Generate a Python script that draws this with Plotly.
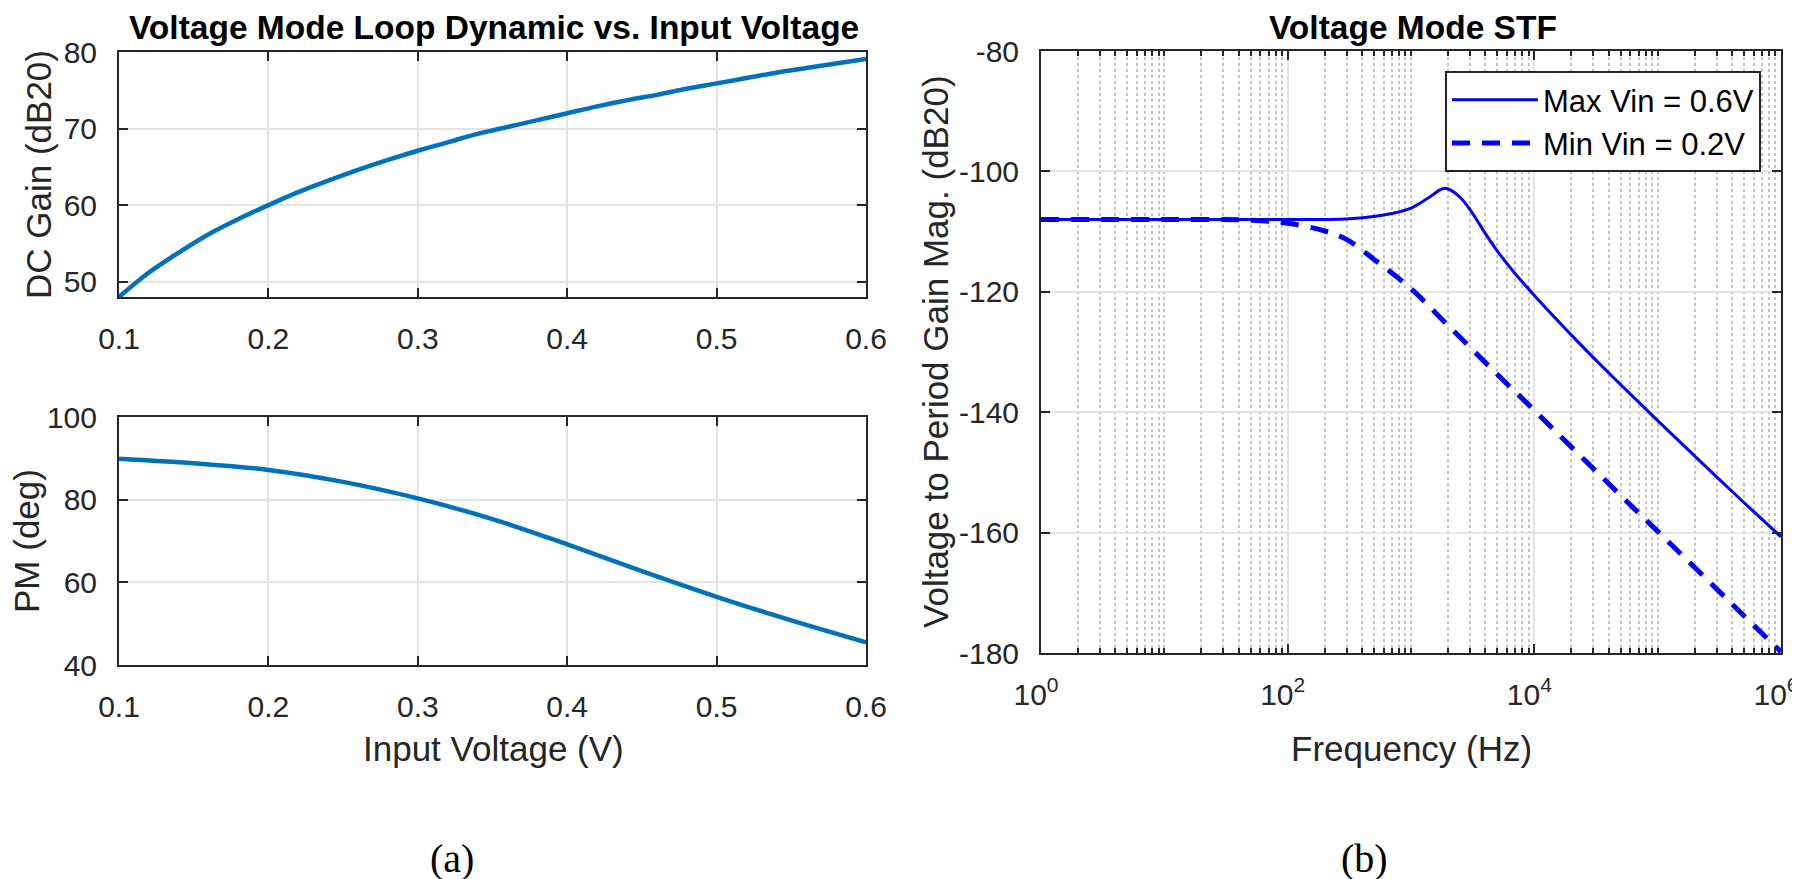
import plotly.graph_objects as go

# ---------------- data ----------------
vin = [0.10, 0.12, 0.14, 0.16, 0.18, 0.20, 0.22, 0.24, 0.26, 0.28, 0.30, 0.32, 0.34,
       0.36, 0.38, 0.40, 0.42, 0.44, 0.46, 0.48, 0.50, 0.52, 0.54, 0.56, 0.58, 0.60]
dc_gain = [48.0, 51.2, 53.8, 56.2, 58.2, 60.0, 61.7, 63.2, 64.6, 65.9, 67.1, 68.2, 69.3,
           70.2, 71.1, 72.0, 72.9, 73.7, 74.4, 75.2, 75.9, 76.6, 77.3, 77.9, 78.5, 79.1]

vin_pm = [0.10, 0.15, 0.20, 0.25, 0.30, 0.35, 0.40, 0.45, 0.50, 0.55, 0.60]
pm = [89.9, 88.8, 87.2, 84.3, 80.3, 75.3, 69.2, 62.7, 56.5, 50.8, 45.5]

freq_max = [1, 10, 100, 300, 500, 700, 1000, 1200, 1500, 1700, 1900, 2100, 2500, 3000,
            3500, 4000, 5000, 7000, 1e4, 1.5e4, 2e4, 3e4, 5e4, 1e5, 2e5, 5e5, 1e6]
mag_max = [-108.0, -108.0, -108.0, -107.9, -107.5, -107.0, -106.1, -105.2, -103.9,
           -103.1, -102.8, -103.1, -104.3, -106.3, -108.4, -110.3, -113.2, -117.0,
           -120.6, -124.5, -127.2, -130.9, -135.4, -141.4, -147.3, -155.0, -160.7]

freq_min = [1, 10, 50, 100, 200, 300, 500, 1000, 2000, 5000, 1e4, 2e4, 5e4, 1e5,
            2e5, 5e5, 1e6]
mag_min = [-108.0, -108.0, -108.1, -108.6, -109.9, -111.3, -114.6, -119.5, -125.6,
           -133.7, -139.7, -145.8, -153.8, -159.8, -165.8, -173.8, -179.8]

x_ticks_a = [0.1, 0.2, 0.3, 0.4, 0.5, 0.6]
x_ticklabels_a = ["0.1", "0.2", "0.3", "0.4", "0.5", "0.6"]
y_ticks_gain = [50, 60, 70, 80]
y_ticks_pm = [40, 60, 80, 100]
f_ticks = [1, 100, 1e4, 1e6]
f_ticklabels = ["10<sup>0</sup>", "10<sup>2</sup>", "10<sup>4</sup>", "10<sup>6</sup>"]
f_minor = [m * 10 ** d for d in range(6) for m in range(1, 10) if not (m == 1 and d % 2 == 0)]
y_ticks_stf = [-180, -160, -140, -120, -100, -80]
y_ticklabels_stf = ["-180", "-160", "-140", "-120", "-100", "-80"]

# ---------------- styling ----------------
W, H = 1800, 879
FONT = "Liberation Sans, Arial, sans-serif"
AX = "#262626"
GRID = "#e3e3e3"

def px_x(p):
    return p / W

def px_y(p):
    return 1 - p / H

common_axis = dict(
    showline=True, linewidth=2, linecolor=AX, mirror="ticks",
    ticks="inside", ticklen=9, tickwidth=2, tickcolor=AX,
    showgrid=True, gridcolor=GRID, gridwidth=2, zeroline=False,
    tickfont=dict(family=FONT, size=30, color=AX),
    ticklabelstandoff=14, automargin=False,
)

fig = go.Figure()

fig.add_trace(go.Scatter(x=vin, y=dc_gain, mode="lines", line=dict(color="#0072BD", width=4.5, shape="spline"),
                         xaxis="x", yaxis="y", showlegend=False))
fig.add_trace(go.Scatter(x=vin_pm, y=pm, mode="lines", line=dict(color="#0072BD", width=4.5, shape="spline"),
                         xaxis="x2", yaxis="y2", showlegend=False))
fig.add_trace(go.Scatter(x=freq_max, y=mag_max, mode="lines", name="Max Vin = 0.6V",
                         line=dict(color="#0000FF", width=3, shape="spline", smoothing=0.8),
                         xaxis="x3", yaxis="y3"))
fig.add_trace(go.Scatter(x=freq_min, y=mag_min, mode="lines", name="Min Vin = 0.2V",
                         line=dict(color="#0000FF", width=5, dash="18px,12px", shape="spline"),
                         xaxis="x3", yaxis="y3"))

fig.update_layout(
    template="none",
    width=W, height=H, autosize=False,
    margin=dict(l=0, r=0, t=0, b=0, autoexpand=False),
    paper_bgcolor="white", plot_bgcolor="white",
    font=dict(family=FONT, color=AX),
    xaxis=dict(common_axis, domain=[px_x(111), px_x(858)], range=[0.1, 0.6],
               tickvals=x_ticks_a, ticktext=x_ticklabels_a, anchor="y"),
    yaxis=dict(common_axis, domain=[px_y(289), px_y(44)], range=[48, 80],
               tickvals=y_ticks_gain, anchor="x"),
    xaxis2=dict(common_axis, domain=[px_x(111), px_x(858)], range=[0.1, 0.6],
                tickvals=x_ticks_a, ticktext=x_ticklabels_a, anchor="y2"),
    yaxis2=dict(common_axis, domain=[px_y(657), px_y(409)], range=[40, 100],
                tickvals=y_ticks_pm, anchor="x2"),
    xaxis3=dict(common_axis, type="log", domain=[px_x(1033), px_x(1773)], range=[0, 6],
                tickvals=f_ticks, ticktext=f_ticklabels, anchor="y3", ticklabelshift=-5,
                minor=dict(tickvals=f_minor, ticks="inside", ticklen=5, tickwidth=1.5,
                           tickcolor=AX, showgrid=True, gridcolor="#c4c4c4",
                           gridwidth=1.5, griddash="dot")),
    yaxis3=dict(common_axis, domain=[px_y(645), px_y(43)], range=[-180, -80],
                tickvals=y_ticks_stf, ticktext=y_ticklabels_stf, anchor="x3"),
    legend=dict(x=px_x(1753), y=px_y(63), xanchor="right", yanchor="top",
                bgcolor="white", bordercolor=AX, borderwidth=2,
                font=dict(family=FONT, size=31, color="black"),
                itemwidth=86, tracegroupgap=0),
)

ann = [
    dict(text="<b>Voltage Mode Loop Dynamic vs. Input Voltage</b>", x=px_x(486), y=px_y(20), size=33.5),
    dict(text="<b>Voltage Mode STF</b>", x=px_x(1405), y=px_y(20), size=33.5),
    dict(text="Input Voltage (V)", x=px_x(485), y=px_y(740), size=35),
    dict(text="Frequency (Hz)", x=px_x(1403), y=px_y(740), size=35),
]
for a in ann:
    fig.add_annotation(text=a["text"], x=a["x"], y=a["y"], xref="paper", yref="paper",
                       xanchor="center", yanchor="middle", showarrow=False,
                       font=dict(family=FONT, size=a["size"], color="black" if "<b>" in a["text"] else AX))

for text, xc, yc in [("DC Gain (dB20)", 30, 167), ("PM (deg)", 18, 533),
                     ("Voltage to Period Gain Mag. (dB20)", 927, 344)]:
    fig.add_annotation(text=text, x=px_x(xc), y=px_y(yc), xref="paper", yref="paper",
                       xanchor="center", yanchor="middle", showarrow=False, textangle=-90,
                       font=dict(family=FONT, size=35, color=AX))

for text, xc in [("(a)", 444), ("(b)", 1356)]:
    fig.add_annotation(text=text, x=px_x(xc), y=px_y(850), xref="paper", yref="paper",
                       xanchor="center", yanchor="middle", showarrow=False,
                       font=dict(family="Liberation Serif, Times New Roman, serif", size=40, color="black"))

fig.write_html("out.html")
